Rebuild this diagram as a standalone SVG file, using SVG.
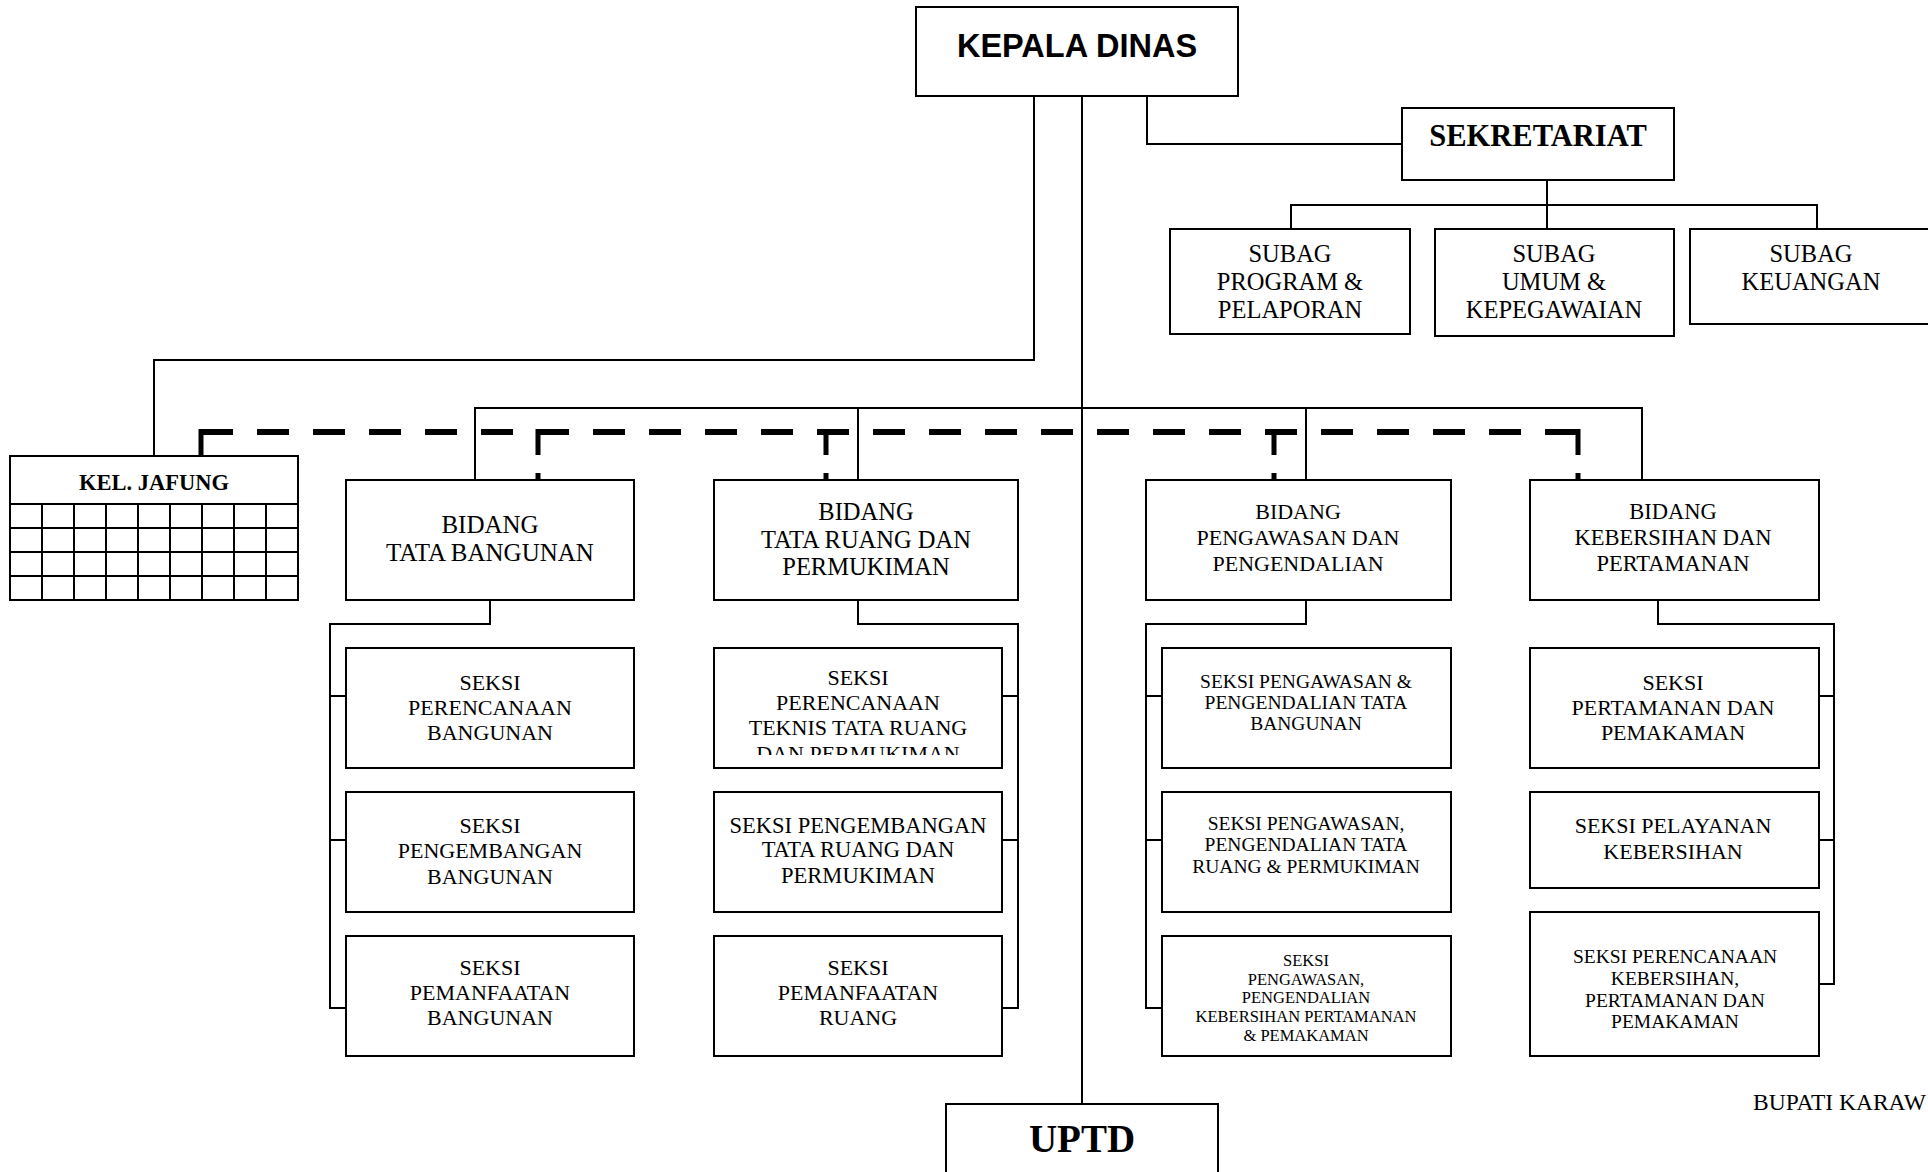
<svg xmlns="http://www.w3.org/2000/svg" width="1928" height="1172" viewBox="0 0 1928 1172">
<style>
.box{fill:#fff;stroke:#000;stroke-width:2}
.ln{fill:none;stroke:#000;stroke-width:2}
.dash{fill:none;stroke:#000;stroke-width:6}
.dv{fill:none;stroke:#000;stroke-width:5}
.t{font-family:"Liberation Serif","Times New Roman",serif;text-anchor:middle;fill:#000}
.tb{font-family:"Liberation Serif","Times New Roman",serif;font-weight:bold;text-anchor:middle;fill:#000}
.ts{font-family:"Liberation Sans",Arial,sans-serif;font-weight:bold;text-anchor:middle;fill:#000}
</style>
<defs>
<clipPath id="clipTRP1"><rect x="714" y="648" width="288" height="107"/></clipPath>
</defs>
<rect width="1928" height="1172" fill="#fff"/>
<g id="connectors">
<path class="ln" d="M1082,96 V1104"/>
<path class="ln" d="M1034,96 V360 H154 V456"/>
<path class="ln" d="M1147,96 V144 H1402"/>
<path class="ln" d="M1547,180 V229 M1291,229 V205 H1817 V229"/>
<path class="ln" d="M475,480 V408 H1642 V480 M858,408 V480 M1306,408 V480"/>
<path class="dash" d="M201,432 H1578" stroke-dasharray="32 24"/>
<path class="dv" d="M201,429 V456"/>
<path class="dv" d="M538,429 V480" stroke-dasharray="26 18"/>
<path class="dv" d="M826,429 V480" stroke-dasharray="26 18"/>
<path class="dv" d="M1274,429 V480" stroke-dasharray="26 18"/>
<path class="dv" d="M1578,429 V480" stroke-dasharray="26 18"/>
<path class="ln" d="M490,600 V624 H330 V1008 H346 M330,696 H346 M330,840 H346"/>
<path class="ln" d="M858,600 V624 H1018 V1008 H1002 M1018,696 H1002 M1018,840 H1002"/>
<path class="ln" d="M1306,600 V624 H1146 V1008 H1162 M1146,696 H1162 M1146,840 H1162"/>
<path class="ln" d="M1658,600 V624 H1834 V984 H1819 M1834,696 H1819 M1834,840 H1819"/>
</g>
<g id="kepala-dinas">
<rect class="box" x="916" y="7" width="322" height="89"/>
<text class="ts" x="1077" y="57" font-size="32.5">KEPALA DINAS</text>
</g>
<g id="sekretariat">
<rect class="box" x="1402" y="108" width="272" height="72"/>
<text class="tb" x="1538" y="146" font-size="30.5">SEKRETARIAT</text>
</g>
<g id="subag-program">
<rect class="box" x="1170" y="229" width="240" height="105"/>
<text class="t" font-size="24.5"><tspan x="1290" y="262">SUBAG</tspan><tspan x="1290" y="290">PROGRAM &amp;</tspan><tspan x="1290" y="318">PELAPORAN</tspan></text>
</g>
<g id="subag-umum">
<rect class="box" x="1435" y="229" width="239" height="107"/>
<text class="t" font-size="24.5"><tspan x="1554" y="262">SUBAG</tspan><tspan x="1554" y="290">UMUM &amp;</tspan><tspan x="1554" y="318">KEPEGAWAIAN</tspan></text>
</g>
<g id="subag-keuangan">
<path class="ln" d="M1928,229 H1690 V324 H1928"/>
<text class="t" font-size="24.5"><tspan x="1811" y="262">SUBAG</tspan><tspan x="1811" y="290">KEUANGAN</tspan></text>
</g>
<g id="kel-jafung">
<rect class="box" x="10" y="456" width="288" height="144"/>
<path class="ln" d="M10,504 H298 M10,528 H298 M10,552 H298 M10,576 H298 M42,504 V600 M74,504 V600 M106,504 V600 M138,504 V600 M170,504 V600 M202,504 V600 M234,504 V600 M266,504 V600"/>
<text class="tb" x="154" y="490" font-size="22.5">KEL. JAFUNG</text>
</g>
<g id="bidang-tata-bangunan">
<rect class="box" x="346" y="480" width="288" height="120"/>
<text class="t" font-size="25"><tspan x="490" y="533">BIDANG</tspan><tspan x="490" y="561">TATA BANGUNAN</tspan></text>
</g>
<g id="bidang-tata-ruang">
<rect class="box" x="714" y="480" width="304" height="120"/>
<text class="t" font-size="24.5"><tspan x="866" y="520">BIDANG</tspan><tspan x="866" y="548">TATA RUANG DAN</tspan><tspan x="866" y="575">PERMUKIMAN</tspan></text>
</g>
<g id="bidang-pengawasan">
<rect class="box" x="1146" y="480" width="305" height="120"/>
<text class="t" font-size="22"><tspan x="1298" y="519">BIDANG</tspan><tspan x="1298" y="545">PENGAWASAN DAN</tspan><tspan x="1298" y="571">PENGENDALIAN</tspan></text>
</g>
<g id="bidang-kebersihan">
<rect class="box" x="1530" y="480" width="289" height="120"/>
<text class="t" font-size="22.5"><tspan x="1673" y="519">BIDANG</tspan><tspan x="1673" y="545">KEBERSIHAN DAN</tspan><tspan x="1673" y="571">PERTAMANAN</tspan></text>
</g>
<g id="seksi-perencanaan-bangunan">
<rect class="box" x="346" y="648" width="288" height="120"/>
<text class="t" font-size="22"><tspan x="490" y="690">SEKSI</tspan><tspan x="490" y="715">PERENCANAAN</tspan><tspan x="490" y="740">BANGUNAN</tspan></text>
</g>
<g id="seksi-pengembangan-bangunan">
<rect class="box" x="346" y="792" width="288" height="120"/>
<text class="t" font-size="22"><tspan x="490" y="833">SEKSI</tspan><tspan x="490" y="858">PENGEMBANGAN</tspan><tspan x="490" y="884">BANGUNAN</tspan></text>
</g>
<g id="seksi-pemanfaatan-bangunan">
<rect class="box" x="346" y="936" width="288" height="120"/>
<text class="t" font-size="22"><tspan x="490" y="975">SEKSI</tspan><tspan x="490" y="1000">PEMANFAATAN</tspan><tspan x="490" y="1025">BANGUNAN</tspan></text>
</g>
<g id="seksi-perencanaan-teknis">
<rect class="box" x="714" y="648" width="288" height="120"/>
<text class="t" font-size="22" clip-path="url(#clipTRP1)"><tspan x="858" y="685">SEKSI</tspan><tspan x="858" y="710">PERENCANAAN</tspan><tspan x="858" y="735">TEKNIS TATA RUANG</tspan><tspan x="858" y="761">DAN PERMUKIMAN</tspan></text>
</g>
<g id="seksi-pengembangan-tata-ruang">
<rect class="box" x="714" y="792" width="288" height="120"/>
<text class="t" font-size="22.5"><tspan x="858" y="833">SEKSI PENGEMBANGAN</tspan><tspan x="858" y="857">TATA RUANG DAN</tspan><tspan x="858" y="883">PERMUKIMAN</tspan></text>
</g>
<g id="seksi-pemanfaatan-ruang">
<rect class="box" x="714" y="936" width="288" height="120"/>
<text class="t" font-size="22"><tspan x="858" y="975">SEKSI</tspan><tspan x="858" y="1000">PEMANFAATAN</tspan><tspan x="858" y="1025">RUANG</tspan></text>
</g>
<g id="seksi-pengawasan-tata-bangunan">
<rect class="box" x="1162" y="648" width="289" height="120"/>
<text class="t" font-size="19.5"><tspan x="1306" y="688">SEKSI PENGAWASAN &amp;</tspan><tspan x="1306" y="709">PENGENDALIAN TATA</tspan><tspan x="1306" y="730">BANGUNAN</tspan></text>
</g>
<g id="seksi-pengawasan-tata-ruang">
<rect class="box" x="1162" y="792" width="289" height="120"/>
<text class="t" font-size="19.5"><tspan x="1306" y="830">SEKSI PENGAWASAN,</tspan><tspan x="1306" y="851">PENGENDALIAN TATA</tspan><tspan x="1306" y="873">RUANG &amp; PERMUKIMAN</tspan></text>
</g>
<g id="seksi-pengawasan-kebersihan">
<rect class="box" x="1162" y="936" width="289" height="120"/>
<text class="t" font-size="16.5"><tspan x="1306" y="966">SEKSI</tspan><tspan x="1306" y="985">PENGAWASAN,</tspan><tspan x="1306" y="1003">PENGENDALIAN</tspan><tspan x="1306" y="1022">KEBERSIHAN PERTAMANAN</tspan><tspan x="1306" y="1041">&amp; PEMAKAMAN</tspan></text>
</g>
<g id="seksi-pertamanan">
<rect class="box" x="1530" y="648" width="289" height="120"/>
<text class="t" font-size="22"><tspan x="1673" y="690">SEKSI</tspan><tspan x="1673" y="715">PERTAMANAN DAN</tspan><tspan x="1673" y="740">PEMAKAMAN</tspan></text>
</g>
<g id="seksi-pelayanan-kebersihan">
<rect class="box" x="1530" y="792" width="289" height="96"/>
<text class="t" font-size="22"><tspan x="1673" y="833">SEKSI PELAYANAN</tspan><tspan x="1673" y="859">KEBERSIHAN</tspan></text>
</g>
<g id="seksi-perencanaan-kebersihan">
<rect class="box" x="1530" y="912" width="289" height="144"/>
<text class="t" font-size="19.5"><tspan x="1675" y="963">SEKSI PERENCANAAN</tspan><tspan x="1675" y="985">KEBERSIHAN,</tspan><tspan x="1675" y="1007">PERTAMANAN DAN</tspan><tspan x="1675" y="1028">PEMAKAMAN</tspan></text>
</g>
<g id="uptd">
<path class="box" d="M946,1180 V1104 H1218 V1180"/>
<text class="tb" x="1082" y="1152" font-size="39">UPTD</text>
</g>
<g id="signature">
<text font-family="Liberation Serif,serif" font-size="23.5" x="1753" y="1110" fill="#000">BUPATI KARAW</text>
</g>
</svg>
